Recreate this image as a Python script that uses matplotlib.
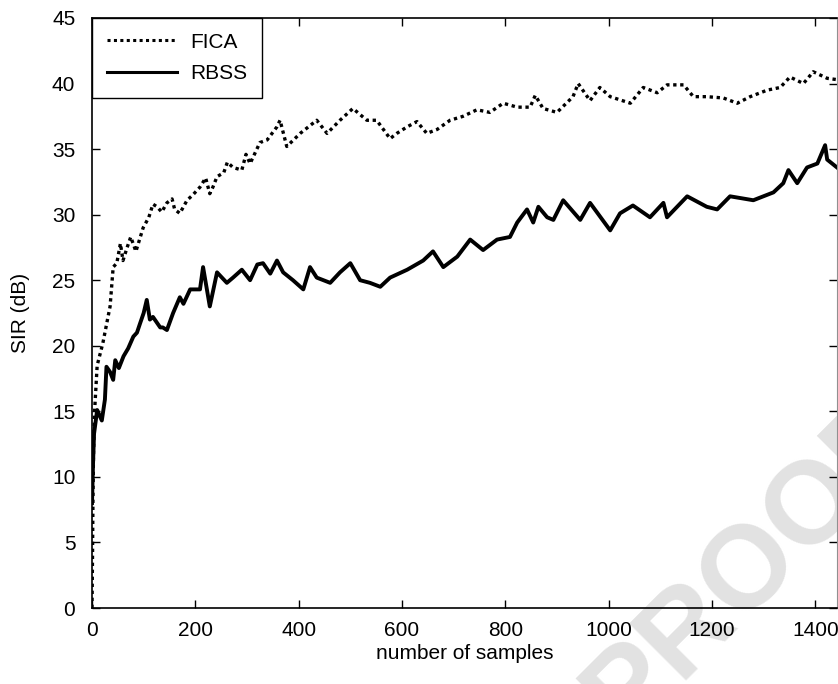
import numpy as np
import matplotlib
matplotlib.use("Agg")
import matplotlib.pyplot as plt

plt.rcParams["font.family"] = ["Liberation Sans", "DejaVu Sans"]

# ----------------------------------------------------------------------------
# Data
# ----------------------------------------------------------------------------
fica_x = [0, 1, 2, 3, 5, 10, 21, 35, 41, 48, 55, 60, 68, 75, 85, 99, 110, 118,
          126, 135, 145, 155, 160, 170, 184, 195, 209, 220, 228, 234, 242, 255,
          262, 273, 290, 298, 306, 312, 325, 339, 358, 364, 377, 403, 435, 455,
          480, 505, 532, 551, 564, 577, 590, 610, 629, 648, 668, 693, 718, 745,
          770, 796, 823, 848, 858, 873, 900, 931, 941, 964, 983, 1003, 1042,
          1067, 1094, 1113, 1145, 1164, 1190, 1222, 1249, 1274, 1307, 1332,
          1351, 1377, 1396, 1423, 1442]
fica_y = [0, 4, 9, 12, 15, 18.5, 20.2, 23, 26, 26.3, 27.8, 26.5, 27.5, 28.3,
          27.2, 29, 29.8, 30.8, 30.6, 30.2, 30.9, 31.2, 30.4, 30.1, 31.1, 31.5,
          32.1, 32.8, 31.6, 32.1, 32.9, 33.2, 34.0, 33.6, 33.4, 34.6, 33.9, 34.4,
          35.5, 35.7, 36.7, 37.2, 35.2, 36.2, 37.2, 36.2, 37.2, 38.1, 37.2, 37.2,
          36.5, 35.8, 36.2, 36.7, 37.1, 36.2, 36.5, 37.2, 37.5, 38, 37.8, 38.5,
          38.2, 38.2, 39.1, 38.1, 37.8, 39, 40, 38.7, 39.7, 39, 38.5, 39.7, 39.3,
          39.9, 39.9, 39, 39, 38.9, 38.5, 39, 39.5, 39.7, 40.5, 40, 40.9, 40.4,
          40.3]

rbss_x = [0, 2, 4, 10, 19, 25, 28, 35, 41, 45, 52, 61, 70, 80, 87, 93, 100,
          106, 112, 118, 132, 137, 145, 157, 170, 177, 190, 209, 215, 228, 242,
          261, 273, 290, 306, 320, 331, 345, 358, 370, 389, 409, 422, 435, 461,
          480, 500, 519, 538, 558, 577, 610, 641, 660, 680, 707, 732, 757, 784,
          809, 823, 842, 854, 864, 881, 893, 912, 945, 964, 1003, 1022, 1047,
          1080, 1106, 1113, 1152, 1190, 1210, 1235, 1280, 1319, 1338, 1348,
          1365, 1384, 1404, 1419, 1423, 1442]
rbss_y = [8, 11, 13.3, 15.1, 14.3, 15.9, 18.4, 18.0, 17.4, 18.9, 18.3, 19.2,
          19.8, 20.7, 21, 21.7, 22.5, 23.5, 22, 22.2, 21.4, 21.4, 21.2, 22.5,
          23.7, 23.2, 24.3, 24.3, 26, 23, 25.6, 24.8, 25.2, 25.8, 25, 26.2, 26.3,
          25.5, 26.5, 25.6, 25, 24.3, 26, 25.2, 24.8, 25.6, 26.3, 25, 24.8, 24.5,
          25.2, 25.8, 26.5, 27.2, 26, 26.8, 28.1, 27.3, 28.1, 28.3, 29.4, 30.4,
          29.4, 30.6, 29.8, 29.6, 31.1, 29.6, 30.9, 28.8, 30.1, 30.7, 29.8, 30.9,
          29.8, 31.4, 30.6, 30.4, 31.4, 31.1, 31.7, 32.4, 33.4, 32.4, 33.6, 33.9,
          35.3, 34.2, 33.6]

x_ticks = [0, 200, 400, 600, 800, 1000, 1200, 1400]
y_ticks = [0, 5, 10, 15, 20, 25, 30, 35, 40, 45]

# ----------------------------------------------------------------------------
# Plot
# ----------------------------------------------------------------------------
FS = 15

fig = plt.figure(figsize=(8.38, 6.84), dpi=100)
ax = fig.add_axes([92 / 838, 1 - 608 / 684, 745 / 838, 590 / 684])
ax.patch.set_alpha(0)

# watermark behind everything
fig.text(0.745, -0.075, "PROOF", fontsize=84, fontweight="bold",
         color="#e2e2e2", rotation=45, rotation_mode="anchor",
         ha="left", va="baseline", zorder=-5)

ax.plot(fica_x, fica_y, color="black", linestyle=(0, (1, 1.1)),
        linewidth=2.4, label="FICA")
ax.plot(rbss_x, rbss_y, color="black", linestyle="-",
        linewidth=2.8, label="RBSS")

ax.set_xlim(0, 1442)
ax.set_ylim(0, 45)
ax.set_xticks(x_ticks)
ax.set_yticks(y_ticks)
ax.tick_params(direction="in", length=6, width=1, top=True, right=True,
               labelsize=FS, colors="black")
ax.tick_params(axis="y", pad=12)
ax.tick_params(axis="x", pad=9)
for side in ["left", "bottom", "top"]:
    ax.spines[side].set_linewidth(1.2)
ax.spines["right"].set_color("#909090")

ax.set_xlabel("number of samples", fontsize=FS, labelpad=3)
ax.set_ylabel("SIR (dB)", fontsize=FS, labelpad=16)

leg = ax.legend(loc="upper left", fontsize=FS, handlelength=3.4,
                handletextpad=0.6, borderaxespad=0, fancybox=False,
                framealpha=1, edgecolor="black", borderpad=0.7,
                labelspacing=0.6)
leg.get_frame().set_linewidth(1.0)
for ln in leg.get_lines():
    ln.set_linewidth(2.2)

fig.savefig("out.png", dpi=100)
